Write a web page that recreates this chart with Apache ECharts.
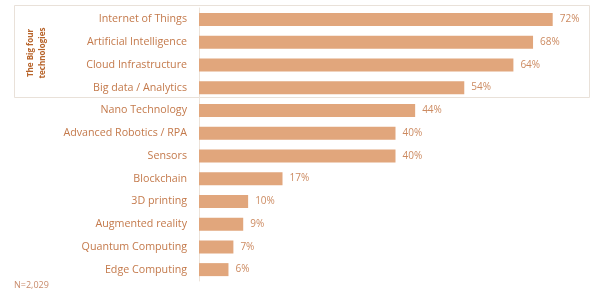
<!DOCTYPE html>
<html><head><meta charset="utf-8">
<script src="https://cdn.jsdelivr.net/npm/echarts@6/dist/echarts.min.js"></script>
<style>html,body{margin:0;padding:0;background:#fff}#c{width:593px;height:293px}</style>
</head><body><div id="c"></div>
<script>
const categories = ["Internet of Things","Artificial Intelligence","Cloud Infrastructure","Big data / Analytics","Nano Technology","Advanced Robotics / RPA","Sensors","Blockchain","3D printing","Augmented reality","Quantum Computing","Edge Computing"];
const values = [72,68,64,54,44,40,40,17,10,9,7,6];
const groupTitle = "The Big four\ntechnologies";
const note = "N=2,029";

const chart = echarts.init(document.getElementById('c'), null, {renderer:'canvas'});
chart.setOption({
  animation:false,
  backgroundColor:'#fff',
  grid:{left:199,right:1,top:8,bottom:12,containLabel:false},
  xAxis:{type:'value',min:0,max:80,show:false},
  yAxis:{type:'category',data:categories,inverse:true,
    axisLine:{show:true,lineStyle:{color:'#ece3da',width:1}},
    axisTick:{show:false},
    axisLabel:{color:'#c47a4c',fontSize:10.7,fontFamily:'Open Sans',margin:12}},
  graphic:[
    {type:'rect',z:-1,shape:{x:14.5,y:5.5,width:575,height:92},style:{fill:'none',stroke:'#e9e1d9',lineWidth:1}},
    {type:'text',x:37,y:53,rotation:Math.PI/2,style:{text:groupTitle,fill:'#b8652c',font:'bold 8px "Open Sans"',align:'center',verticalAlign:'middle',lineHeight:12}},
    {type:'text',left:14,top:281,style:{text:note,fill:'#c88a6a',font:'9px "Open Sans"'}}
  ],
  series:[{type:'bar',data:values,barWidth:13,
    itemStyle:{color:'#e1a67c'},
    label:{show:true,position:'right',distance:7,formatter:'{c}%',color:'#cc8a60',fontSize:10,fontFamily:'Open Sans'}}]
});
</script></body></html>
